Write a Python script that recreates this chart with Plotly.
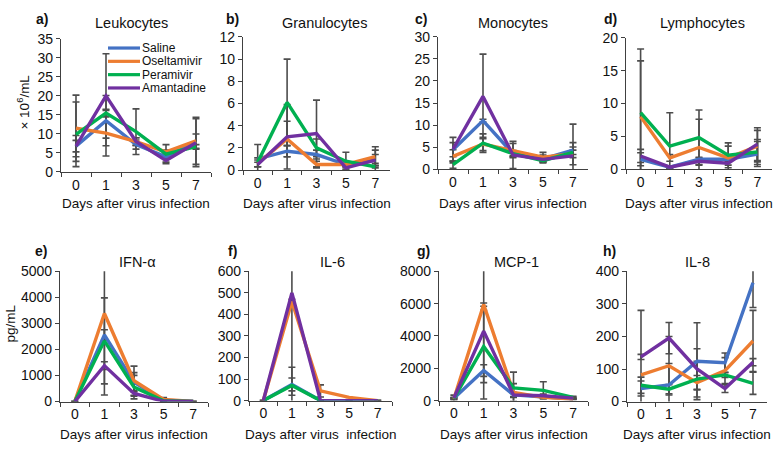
import plotly.graph_objects as go

W, H = 775, 452
FONT = "Arial, 'Liberation Sans', sans-serif"

days = ["0", "1", "3", "5", "7"]
series_names = ["Saline", "Oseltamivir", "Peramivir", "Amantadine"]
series_colors = ["#4472C4", "#ED7D31", "#00B050", "#7030A0"]

# a) Leukocytes (x10^6/mL)
leuk_saline = [6.8, 13.5, 7.2, 4.0, 8.0]
leuk_oseltamivir = [11.5, 10.2, 8.0, 5.3, 8.2]
leuk_peramivir = [9.9, 15.5, 10.6, 4.7, 6.7]
leuk_amantadine = [6.8, 20.0, 8.0, 3.0, 7.7]
leuk_saline_err = [2.8, 6.6, 1.2, 0.6, 2.0]
leuk_oseltamivir_err = [8.7, 6.0, 1.0, 0.5, 6.2]
leuk_peramivir_err = [8.5, 1.0, 6.0, 2.5, 0.5]
leuk_amantadine_err = [1.5, 11.1, 1.0, 0.4, 6.3]

# b) Granulocytes
gran_saline = [1.0, 1.7, 1.4, 0.5, 0.9]
gran_oseltamivir = [0.6, 2.8, 0.5, 0.5, 1.2]
gran_peramivir = [0.7, 6.1, 2.0, 0.8, 0.3]
gran_amantadine = [0.5, 3.0, 3.3, 0.2, 0.9]
gran_saline_err = [1.3, 0.5, 0.4, 0.2, 0.5]
gran_oseltamivir_err = [0.3, 1.6, 0.3, 0.2, 0.6]
gran_peramivir_err = [0.4, 3.9, 0.8, 0.8, 0.1]
gran_amantadine_err = [0.2, 2.9, 3.0, 0.1, 1.2]

# c) Monocytes
mono_saline = [4.4, 11.0, 3.5, 2.3, 4.3]
mono_oseltamivir = [2.9, 5.7, 4.2, 2.7, 3.5]
mono_peramivir = [1.0, 5.9, 3.5, 1.9, 3.8]
mono_amantadine = [4.5, 16.5, 3.2, 2.2, 3.0]
mono_saline_err = [1.6, 0.3, 0.7, 0.9, 1.7]
mono_oseltamivir_err = [1.5, 1.5, 1.6, 1.1, 6.7]
mono_peramivir_err = [0.8, 2.1, 0.5, 0.3, 0.5]
mono_amantadine_err = [2.7, 9.6, 3.1, 0.4, 2.0]

# d) Lymphocytes
lymph_saline = [1.5, 0.3, 1.5, 1.5, 2.3]
lymph_oseltamivir = [8.0, 1.7, 3.3, 1.7, 3.5]
lymph_peramivir = [8.6, 3.5, 4.8, 2.1, 2.6]
lymph_amantadine = [2.0, 0.3, 1.2, 0.9, 3.8]
lymph_saline_err = [1.0, 0.2, 0.3, 0.3, 1.9]
lymph_oseltamivir_err = [8.5, 0.5, 4.3, 1.8, 2.4]
lymph_peramivir_err = [9.7, 5.1, 4.2, 1.9, 1.9]
lymph_amantadine_err = [1.0, 0.2, 0.5, 0.3, 2.5]

# e) IFN-alpha (pg/mL)
ifn_saline = [0, 2560, 740, 50, 0]
ifn_oseltamivir = [0, 3380, 800, 80, 0]
ifn_peramivir = [0, 2330, 555, 30, 0]
ifn_amantadine = [0, 1380, 310, 10, 0]
ifn_saline_err = [0, 200, 370, 20, 0]
ifn_oseltamivir_err = [0, 3130, 560, 70, 0]
ifn_peramivir_err = [0, 1650, 450, 20, 0]
ifn_amantadine_err = [0, 150, 100, 10, 0]

# f) IL-6 (pg/mL)
il6_saline = [0, 75, 0, 0, 0]
il6_oseltamivir = [0, 460, 45, 15, 0]
il6_peramivir = [0, 70, 0, 0, 0]
il6_amantadine = [0, 500, 0, 0, 0]
il6_saline_err = [0, 30, 0, 0, 0]
il6_oseltamivir_err = [0, 10, 28, 0, 0]
il6_peramivir_err = [0, 85, 0, 0, 0]
il6_amantadine_err = [0, 475, 0, 0, 0]

# g) MCP-1 (pg/mL)
mcp_saline = [150, 1860, 350, 250, 100]
mcp_oseltamivir = [120, 5940, 500, 200, 100]
mcp_peramivir = [130, 3350, 790, 635, 200]
mcp_amantadine = [160, 4300, 350, 300, 150]
mcp_saline_err = [190, 360, 150, 50, 30]
mcp_oseltamivir_err = [50, 100, 550, 50, 30]
mcp_peramivir_err = [50, 2240, 970, 530, 60]
mcp_amantadine_err = [50, 4200, 100, 100, 50]

# h) IL-8 (pg/mL)
il8_saline = [40, 51, 124, 119, 365]
il8_oseltamivir = [82, 110, 58, 95, 186]
il8_peramivir = [50, 38, 69, 82, 56]
il8_amantadine = [137, 195, 100, 40, 121]
il8_saline_err = [23, 66, 118, 30, 76]
il8_oseltamivir_err = [198, 90, 22, 40, 94]
il8_peramivir_err = [25, 14, 55, 8, 34]
il8_amantadine_err = [8, 48, 62, 12, 11]

panel_letters = ["a)", "b)", "c)", "d)", "e)", "f)", "g)", "h)"]
panel_titles = ["Leukocytes", "Granulocytes", "Monocytes", "Lymphocytes",
                "IFN-α", "IL-6", "MCP-1", "IL-8"]
y_max = [35, 12, 30, 20, 5000, 600, 8000, 400]
y_step = [5, 2, 5, 5, 1000, 100, 2000, 100]

panel_means = [
    [leuk_saline, leuk_oseltamivir, leuk_peramivir, leuk_amantadine],
    [gran_saline, gran_oseltamivir, gran_peramivir, gran_amantadine],
    [mono_saline, mono_oseltamivir, mono_peramivir, mono_amantadine],
    [lymph_saline, lymph_oseltamivir, lymph_peramivir, lymph_amantadine],
    [ifn_saline, ifn_oseltamivir, ifn_peramivir, ifn_amantadine],
    [il6_saline, il6_oseltamivir, il6_peramivir, il6_amantadine],
    [mcp_saline, mcp_oseltamivir, mcp_peramivir, mcp_amantadine],
    [il8_saline, il8_oseltamivir, il8_peramivir, il8_amantadine],
]
panel_errs = [
    [leuk_saline_err, leuk_oseltamivir_err, leuk_peramivir_err, leuk_amantadine_err],
    [gran_saline_err, gran_oseltamivir_err, gran_peramivir_err, gran_amantadine_err],
    [mono_saline_err, mono_oseltamivir_err, mono_peramivir_err, mono_amantadine_err],
    [lymph_saline_err, lymph_oseltamivir_err, lymph_peramivir_err, lymph_amantadine_err],
    [ifn_saline_err, ifn_oseltamivir_err, ifn_peramivir_err, ifn_amantadine_err],
    [il6_saline_err, il6_oseltamivir_err, il6_peramivir_err, il6_amantadine_err],
    [mcp_saline_err, mcp_oseltamivir_err, mcp_peramivir_err, mcp_amantadine_err],
    [il8_saline_err, il8_oseltamivir_err, il8_peramivir_err, il8_amantadine_err],
]

# plot-area boxes in pixels: (left, right, top, bottom)
boxes = [
    (61, 211, 32, 170), (243, 390, 30, 168), (438, 588, 30, 167), (626, 772, 31, 167),
    (60, 208, 273, 408), (249, 392, 273, 407), (439, 588, 273, 407), (627, 767, 273, 408),
]
letter_pos = [(42, 11), (232, 11), (421, 11), (610, 11),
              (41, 252), (232, 252), (423, 252), (609, 252)]
title_pos = [(131, 16), (324, 16), (513, 16), (702, 16),
             (137, 263), (332, 263), (516, 263), (697, 263)]
xtitle_y = [203, 203, 203, 203, 442, 442, 442, 442]
xtitles = ["Days after virus infection"] * 5 + ["Days after virus&nbsp; infection"] + ["Days after virus infection"] * 2
legend_y = [41.5, 55.3, 69.1, 82.9]

ERR_COLOR = "#4d4d4d"
AX_COLOR = "#404040"

fig = go.Figure()
layout_axes = {}
annotations = []


def px_x(p):
    return p / W


def px_y(p):
    return 1 - p / H


def label(text, x, y, size, xanchor="center", angle=0, pad=1):
    return dict(text=text, x=px_x(x), y=px_y(y), xref="paper", yref="paper",
                xanchor=xanchor, yanchor="middle", showarrow=False, textangle=angle,
                borderpad=pad, font=dict(family=FONT, size=size, color="#111"))


for i in range(8):
    n = i + 1
    xa = "x" if n == 1 else f"x{n}"
    ya = "y" if n == 1 else f"y{n}"
    # error bars first (behind the lines)
    for s in range(4):
        fig.add_trace(go.Scatter(
            x=days, y=panel_means[i][s], xaxis=xa, yaxis=ya, mode="markers",
            marker=dict(size=1, opacity=0), showlegend=False, hoverinfo="skip",
            error_y=dict(type="data", array=panel_errs[i][s], symmetric=True,
                         color=ERR_COLOR, thickness=1.6, width=3.5),
        ))
    for s in range(4):
        fig.add_trace(go.Scatter(
            x=days, y=panel_means[i][s], xaxis=xa, yaxis=ya, mode="lines",
            name=series_names[s], line=dict(color=series_colors[s], width=3.4),
            showlegend=False,
        ))
    l, r, t, b = boxes[i]
    xkey = "xaxis" if n == 1 else f"xaxis{n}"
    ykey = "yaxis" if n == 1 else f"yaxis{n}"
    layout_axes[xkey] = dict(
        domain=[px_x(l), px_x(r)], anchor=ya, type="category",
        categoryorder="array", categoryarray=days, range=[-0.5, 4.5],
        tickson="boundaries", ticks="outside", ticklen=4, tickcolor=AX_COLOR,
        showline=True, linecolor=AX_COLOR, linewidth=1.2, showgrid=False,
        zeroline=False, tickfont=dict(family=FONT, size=14, color="#111"),
        fixedrange=True,
    )
    layout_axes[ykey] = dict(
        domain=[px_y(b), px_y(t)], anchor=xa, range=[0, y_max[i]], dtick=y_step[i],
        tick0=0, ticks="outside", ticklen=4, tickcolor=AX_COLOR, showline=True,
        linecolor=AX_COLOR, linewidth=1.2, showgrid=False, zeroline=False,
        tickfont=dict(family=FONT, size=14, color="#111"), fixedrange=True,
    )
    lx, ly = letter_pos[i]
    annotations.append(label("<b>" + panel_letters[i] + "</b>", lx, ly, 14))
    tx, ty = title_pos[i]
    annotations.append(label(panel_titles[i], tx, ty, 14.5))
    annotations.append(label(xtitles[i], (l + r) / 2, xtitle_y[i], 13.5))

# y-axis titles
annotations.append(label("× 10<sup>6</sup>/mL", 23, 98, 13.5, angle=-90))
annotations.append(label("pg/mL", 10, 327, 13.5, angle=-90))

# legend (inside panel a)
shapes = []
for s in range(4):
    yy = legend_y[s]
    shapes.append(dict(type="line", xref="paper", yref="paper", x0=px_x(108), x1=px_x(140),
                       y0=px_y(yy), y1=px_y(yy),
                       line=dict(color=series_colors[s], width=3.2)))
    annotations.append(label(series_names[s], 140.5, yy, 12, xanchor="left", pad=0))

fig.update_layout(
    width=W, height=H, margin=dict(l=0, r=0, t=0, b=0),
    paper_bgcolor="white", plot_bgcolor="white", showlegend=False,
    annotations=annotations, shapes=shapes, **layout_axes,
)

fig.write_html("out.html", config={"displayModeBar": False},
               post_script="document.body.style.margin='0';document.body.style.padding='0';")
